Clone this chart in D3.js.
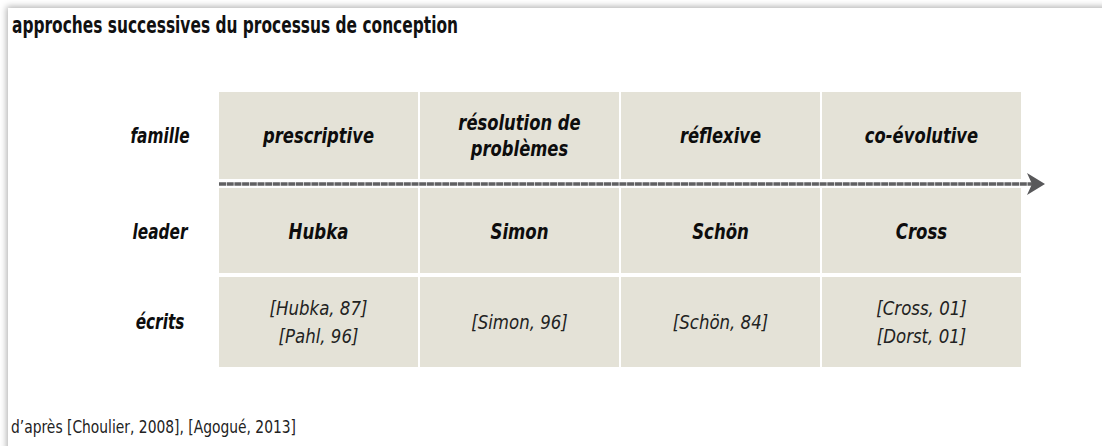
<!DOCTYPE html>
<html><head><meta charset="utf-8">
<script src="https://cdn.jsdelivr.net/npm/d3@7"></script>
<style>
html,body{margin:0;padding:0;background:#fff;}
svg{display:block;}
</style></head>
<body>
<script>
// ---- data ----
const title = "approches successives du processus de conception";
const source = "d\u2019apr\u00e8s [Choulier, 2008], [Agogu\u00e9, 2013]";
const rowLabels = ["famille", "leader", "\u00e9crits"];
const families = [["prescriptive"], ["r\u00e9solution de", "probl\u00e8mes"], ["r\u00e9flexive"], ["co-\u00e9volutive"]];
const leaders = [["Hubka"], ["Simon"], ["Sch\u00f6n"], ["Cross"]];
const writings = [["[Hubka, 87]", "[Pahl, 96]"], ["[Simon, 96]"], ["[Sch\u00f6n, 84]"], ["[Cross, 01]", "[Dorst, 01]"]];

// ---- layout ----
const W = 1102, H = 446;
const FONT = "'DejaVu Sans',sans-serif";
const rowTop = [92, 188, 277], rowBot = [179, 273, 367];
const cellFill = "#e4e2d7";

const svg = d3.select("body").append("svg").attr("width", W).attr("height", H);
const defs = svg.append("defs");
const f = defs.append("filter").attr("id", "sh").attr("x", "-5%").attr("y", "-5%").attr("width", "110%").attr("height", "110%");
f.append("feDropShadow").attr("dx", -1.5).attr("dy", -1.5).attr("stdDeviation", 3).attr("flood-color", "#000").attr("flood-opacity", 0.3);

svg.append("rect").attr("width", W).attr("height", H).attr("fill", "#fff");
svg.append("rect").attr("x", 8).attr("y", 8).attr("width", W + 40).attr("height", H + 40)
  .attr("fill", "#fff").attr("filter", "url(#sh)");

svg.append("text").attr("x", 12).attr("y", 33).text(title)
  .attr("font-family", FONT).attr("font-weight", "bold").attr("font-size", 23.5)
  .attr("textLength", 446).attr("lengthAdjust", "spacingAndGlyphs").attr("fill", "#111");

svg.append("text").attr("x", 11).attr("y", 433).text(source)
  .attr("font-family", FONT).attr("font-size", 17)
  .attr("textLength", 285).attr("lengthAdjust", "spacingAndGlyphs").attr("fill", "#222");

const x = d3.scaleBand().domain(d3.range(families.length)).range([219, 1021]).paddingInner(2 / 201);
const rowData = [families, leaders, writings];

rowData.forEach((row, r) => {
  svg.append("g").selectAll("rect").data(row).join("rect")
    .attr("x", (d, i) => x(i)).attr("y", rowTop[r])
    .attr("width", x.bandwidth()).attr("height", rowBot[r] - rowTop[r])
    .attr("fill", cellFill);
});

// arrow
const ay = 184;
const arrowColor = "#58585a";
svg.append("line").attr("x1", x(0)).attr("x2", 1034).attr("y1", ay).attr("y2", ay)
  .attr("stroke", arrowColor).attr("stroke-width", 3.4).attr("stroke-dasharray", "7,0.7").attr("opacity", 0.95);
svg.append("path")
  .attr("d", `M1027,${ay - 11} L1045,${ay} L1027,${ay + 11} L1032,${ay} Z`)
  .attr("fill", arrowColor);

// text in cells
const lineH = [26, 26, 28.5];
const sx = [0.78, 0.79, 0.83];
const fs = [21, 21, 20];
const base = [7.5, 9, 7];
rowData.forEach((row, r) => {
  const cy = (rowTop[r] + rowBot[r]) / 2;
  const bold = r < 2;
  svg.append("g").selectAll("text").data(row).join("text")
    .attr("transform", (d, i) => `translate(${x(i) + x.bandwidth() / 2},0) scale(${sx[r]},1)`)
    .attr("text-anchor", "middle")
    .attr("font-family", FONT).attr("font-style", "italic")
    .attr("font-weight", bold ? "bold" : "normal")
    .attr("font-size", fs[r])
    .attr("fill", bold ? "#0d0d0d" : "#222")
    .each(function (d) {
      const t = d3.select(this);
      const n = d.length;
      d.forEach((line, k) => {
        t.append("tspan").attr("x", 0)
          .attr("y", cy + base[r] + (k - (n - 1) / 2) * lineH[r])
          .text(line);
      });
    });
});

// row labels
const labelBase = [7.5, 9, 7.5];
svg.append("g").selectAll("text").data(rowLabels).join("text")
  .attr("transform", "translate(160,0) scale(0.73,1)")
  .attr("x", 0).attr("y", (d, i) => (rowTop[i] + rowBot[i]) / 2 + labelBase[i])
  .attr("text-anchor", "middle")
  .attr("font-family", FONT).attr("font-style", "italic").attr("font-weight", "bold")
  .attr("font-size", 21).attr("fill", "#0d0d0d")
  .text(d => d);
</script>
</body></html>
